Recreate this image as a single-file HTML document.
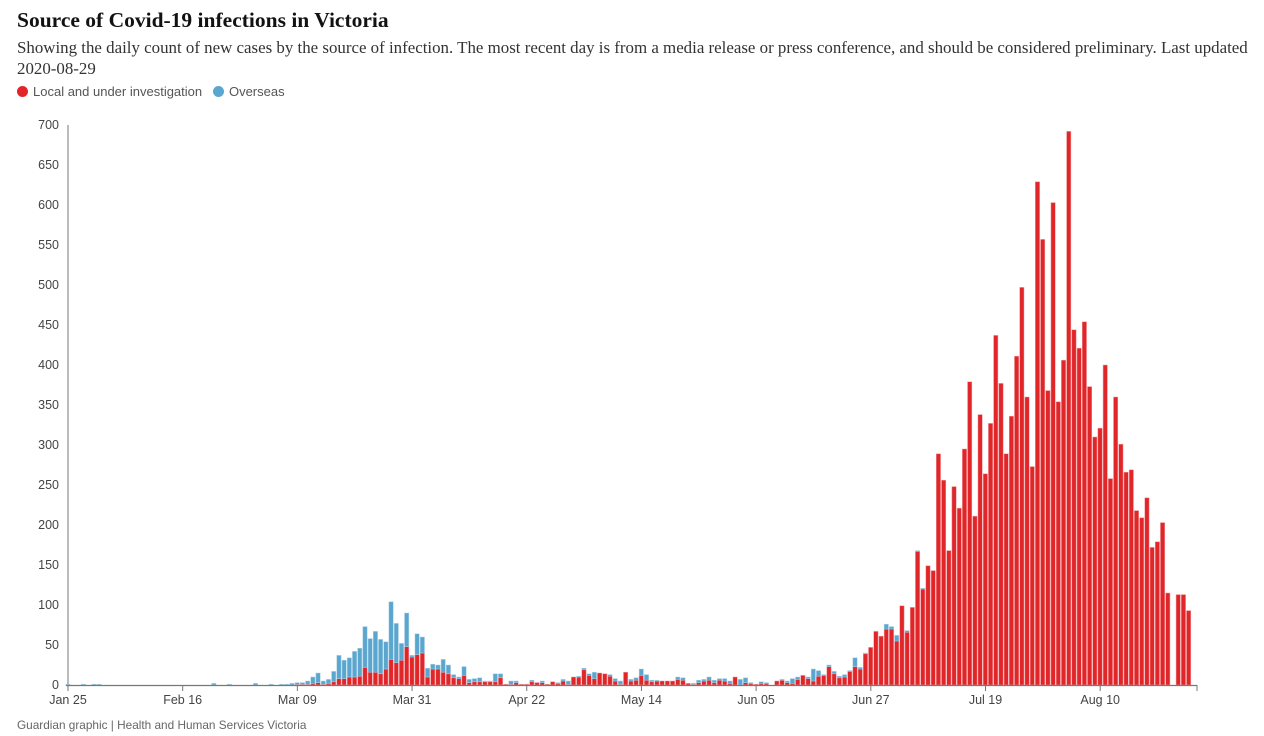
<!DOCTYPE html>
<html><head><meta charset="utf-8"><style>
body{margin:0;background:#fff;width:1264px;height:736px;overflow:hidden;font-family:"Liberation Sans",sans-serif}
#title{position:absolute;left:17px;top:8px;font:bold 21.5px "Liberation Serif",serif;color:#121212;margin:0}
#sub{position:absolute;left:17px;top:37px;width:1235px;font:16.9px/21px "Liberation Serif",serif;color:#333}
#legend{position:absolute;left:17px;top:84px;font-size:13px;color:#555}
.dot{display:inline-block;width:11px;height:11px;border-radius:50%;vertical-align:-1px;margin-right:5px}
#foot{position:absolute;left:17px;top:718px;font-size:11.8px;color:#666}
svg{position:absolute;left:0;top:0}
</style></head><body>
<h1 id="title">Source of Covid-19 infections in Victoria</h1>
<div id="sub">Showing the daily count of new cases by the source of infection. The most recent day is from a media release or press conference, and should be considered preliminary. Last updated 2020-08-29</div>
<div id="legend"><span><span class="dot" style="background:#e1262a"></span>Local and under investigation</span>&nbsp;&nbsp;&nbsp;<span><span class="dot" style="background:#5ba6cf"></span>Overseas</span></div>
<svg id="chart" width="1264" height="736"></svg>
<div id="foot">Guardian graphic | Health and Human Services Victoria</div>
<script>
const local=[0,0,0,0,0,0,0,0,0,0,0,0,0,0,0,0,0,0,0,0,0,0,0,0,0,0,0,0,0,0,0,0,0,0,0,0,0,0,0,0,0,0,0,0,
1,1,1,2,3,1,2,4,8,8,10,10,11,22,16,16,14,20,32,28,31,48,35,38,40,10,20,20,16,14,9,8,12,3,4,4,4,4,4,9,1,1,
3,1,1,4,3,3,1,4,2,5,1,10,10,19,12,8,15,14,11,5,1,16,5,6,12,6,4,5,5,5,5,7,6,2,1,3,5,6,3,6,5,2,10,0,3,2,1,2,2,0,
5,6,3,2,7,12,8,5,11,12,23,14,9,10,17,23,20,39,
47,67,61,70,70,55,99,66,97,167,120,149,143,289,256,168,248,221,295,379,211,338,264,327,437,377,289,336,411,497,360,273,629,557,368,603,354,406,692,444,421,454,373,310,321,400,258,360,301,266,269,218,209,234,172,179,203,115,0,113,113,93];
const overseas=[1,0,0,1,0,1,1,0,0,0,0,0,0,0,0,0,0,0,0,0,0,0,0,0,0,0,0,0,2,0,0,1,0,0,0,0,2,0,0,1,0,1,1,2,
2,2,4,8,12,4,5,13,29,23,24,32,35,51,42,51,43,34,72,49,21,42,2,26,20,11,6,5,16,11,4,2,11,4,4,5,1,1,10,5,0,4,
2,0,0,2,0,2,0,0,1,2,4,0,1,2,2,8,0,0,2,3,4,0,2,3,8,7,2,1,0,0,0,3,3,0,1,3,2,4,3,2,3,3,0,7,6,1,0,2,1,0,
0,1,2,6,3,0,2,15,7,1,2,3,2,3,1,11,2,1,
0,0,0,6,3,7,0,2,0,1,1,0,0,0,0,0,0,0,0,0,0,0,0,0,0,0,0,0,0,0,0,0,0,0,0,0,0,0,0,0,0,0,0,0,0,0,0,0,0,0,0,0,0,0,0,0,0,0,0,0,0,0];
const yTicks=[0,50,100,150,200,250,300,350,400,450,500,550,600,650,700];
const xTickIdx=[0,22,44,66,88,110,132,154,176,198];
const xTickLabels=["Jan 25","Feb 16","Mar 09","Mar 31","Apr 22","May 14","Jun 05","Jun 27","Jul 19","Aug 10"];
const NS='http://www.w3.org/2000/svg',svg=document.getElementById('chart');
const X0=65.4,BW=5.213,Y0=685,YS=0.8;
const x=i=>X0+i*BW, y=v=>Y0-v*YS;
function mk(t,a){const e=document.createElementNS(NS,t);for(const k in a)e.setAttribute(k,a[k]);svg.appendChild(e);return e;}
const ax=mk('line',{x1:68,y1:125,x2:68,y2:685,stroke:'#777','stroke-width':1});

yTicks.forEach(v=>{const t=mk('text',{x:59,y:y(v)+4,'text-anchor':'end','font-size':12.5,fill:'#444','font-family':'Liberation Sans, sans-serif'});t.textContent=v;
});
local.forEach((L,i)=>{const O=overseas[i]||0;
 if(L>0){const r=mk('rect',{x:x(i)+0.3,y:y(L),width:BW-0.9,height:L*YS,fill:'#e1262a',stroke:'#f09a9c','stroke-width':0.5});
 }
 if(O>0){const b=mk('rect',{x:x(i)+0.3,y:y(L+O),width:BW-0.9,height:O*YS,fill:'#5ba6cf',stroke:'#a9d2e8','stroke-width':0.5});
 }
});
const xa=mk('line',{x1:66,y1:685.5,x2:1197,y2:685.5,stroke:'#777','stroke-width':1.2});

mk('line',{x1:1197,y1:685,x2:1197,y2:691,stroke:'#777'});
xTickIdx.forEach((d,k)=>{const cx=x(d)+BW/2;mk('line',{x1:cx,y1:685,x2:cx,y2:691,stroke:'#777'});
 const t=mk('text',{x:cx,y:704,'text-anchor':'middle','font-size':12.5,fill:'#444','font-family':'Liberation Sans, sans-serif'});t.textContent=xTickLabels[k];
 });
</script>
</body></html>
